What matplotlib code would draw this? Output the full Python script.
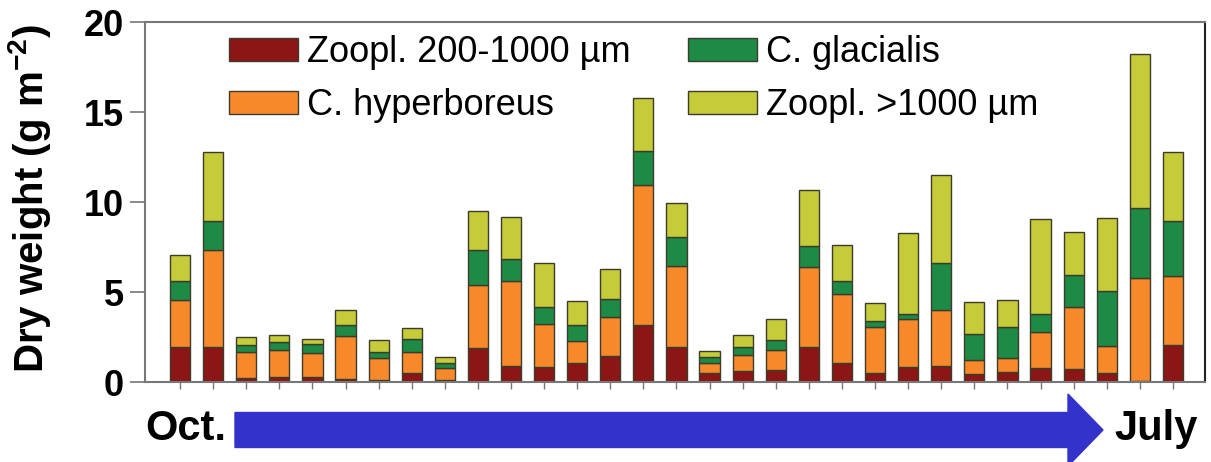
import numpy as np
from matplotlib import pyplot as plt
import matplotlib as mpl
from matplotlib.patches import FancyArrow

mpl.rc('font', family=['Liberation Sans', 'DejaVu Sans'])
mpl.rc('mathtext', fontset='custom', rm='Liberation Sans', bf='Liberation Sans:bold')

# dry weight per sampling (g m-2), Oct. -> July
red = [1.93, 1.96, 0.24, 0.28, 0.29, 0.18, 0.10, 0.52, 0.10, 1.87, 0.91, 0.81, 1.07, 1.44, 3.17, 1.96,
       0.52, 0.63, 0.67, 1.93, 1.04, 0.52, 0.85, 0.91, 0.43, 0.57, 0.77, 0.70, 0.52, 0.07, 2.06]
orange = [2.60, 5.37, 1.44, 1.50, 1.30, 2.38, 1.21, 1.16, 0.66, 3.52, 4.70, 2.39, 1.21, 2.15, 7.77, 4.48,
          0.52, 0.85, 1.11, 4.48, 3.83, 2.52, 2.65, 3.09, 0.79, 0.74, 2.03, 3.48, 1.48, 5.73, 3.83]
green = [1.10, 1.63, 0.38, 0.46, 0.50, 0.60, 0.37, 0.69, 0.28, 1.94, 1.22, 0.98, 0.89, 1.04, 1.89, 1.60,
         0.37, 0.48, 0.55, 1.15, 0.74, 0.35, 0.28, 2.59, 1.43, 1.76, 0.98, 1.76, 3.06, 3.88, 3.05]
yellow = [1.42, 3.84, 0.42, 0.37, 0.30, 0.83, 0.65, 0.65, 0.33, 2.17, 2.35, 2.41, 1.35, 1.63, 2.93, 1.89,
          0.33, 0.65, 1.17, 3.11, 2.00, 0.98, 4.52, 4.91, 1.78, 1.49, 5.28, 2.38, 4.07, 8.54, 3.82]

series = [red, orange, green, yellow]
labels = ['Zoopl. 200-1000 µm', 'C. hyperboreus', 'C. glacialis', 'Zoopl. >1000 µm']
colors = ['#8C1515', '#F7892A', '#1D8A45', '#C6CB3A']

fig = plt.figure(figsize=(12.11, 4.62), dpi=100)
ax = fig.add_axes([145/1211, 1 - 382/462, 1060/1211, 360/462])

x = np.arange(len(red))
bottom = np.zeros(len(red))
for vals, lab, col in zip(series, labels, colors):
    ax.bar(x, vals, 0.61, bottom=bottom, color=col, edgecolor='#3C3C2C', linewidth=1.0, label=lab)
    bottom += np.array(vals)

ax.set_xlim(-1.06, 30.97)
ax.set_ylim(0, 20)
ax.set_yticks([0, 5, 10, 15, 20])
ax.set_xticks(x)
ax.set_xticklabels([])
ax.tick_params(axis='x', direction='out', length=5, width=1, color='#777777')
ax.tick_params(axis='y', direction='out', length=11, width=1.2, color='#777777', pad=4)
for t in ax.get_yticklabels():
    t.set_fontsize(26)
    t.set_fontweight('bold')
for s in ['left', 'bottom', 'top']:
    ax.spines[s].set_color('#777777')
    ax.spines[s].set_linewidth(1.5)
ax.spines['right'].set_color('#222222')
ax.spines['right'].set_linewidth(1.5)

ax.set_ylabel('Dry weight (g m$^{\\mathbf{-2}}$)', fontsize=29, fontweight='bold')
ax.yaxis.set_label_coords(-0.087, 0.51)

ax.legend(ncol=2, loc='upper left', bbox_to_anchor=(229/1211, 1 - 35/462),
          bbox_transform=fig.transFigure, frameon=False, fontsize=26,
          handlelength=1.9, handleheight=0.6, handletextpad=0.25,
          columnspacing=1.6, labelspacing=0.5, borderpad=0, borderaxespad=0)

# time arrow
fig.patches.append(FancyArrow(235/1211, 1 - 430/462, (1103 - 235)/1211, 0,
                              width=35/462, head_width=72/462, head_length=35/1211,
                              length_includes_head=True, color='#3333CC',
                              transform=fig.transFigure, figure=fig))
fig.text(226/1211, 1 - 440/462, 'Oct.', ha='right', va='baseline', fontsize=30, fontweight='bold')
fig.text(1114/1211, 1 - 440/462, 'July', ha='left', va='baseline', fontsize=30, fontweight='bold')

fig.savefig('out.png', dpi=100)
